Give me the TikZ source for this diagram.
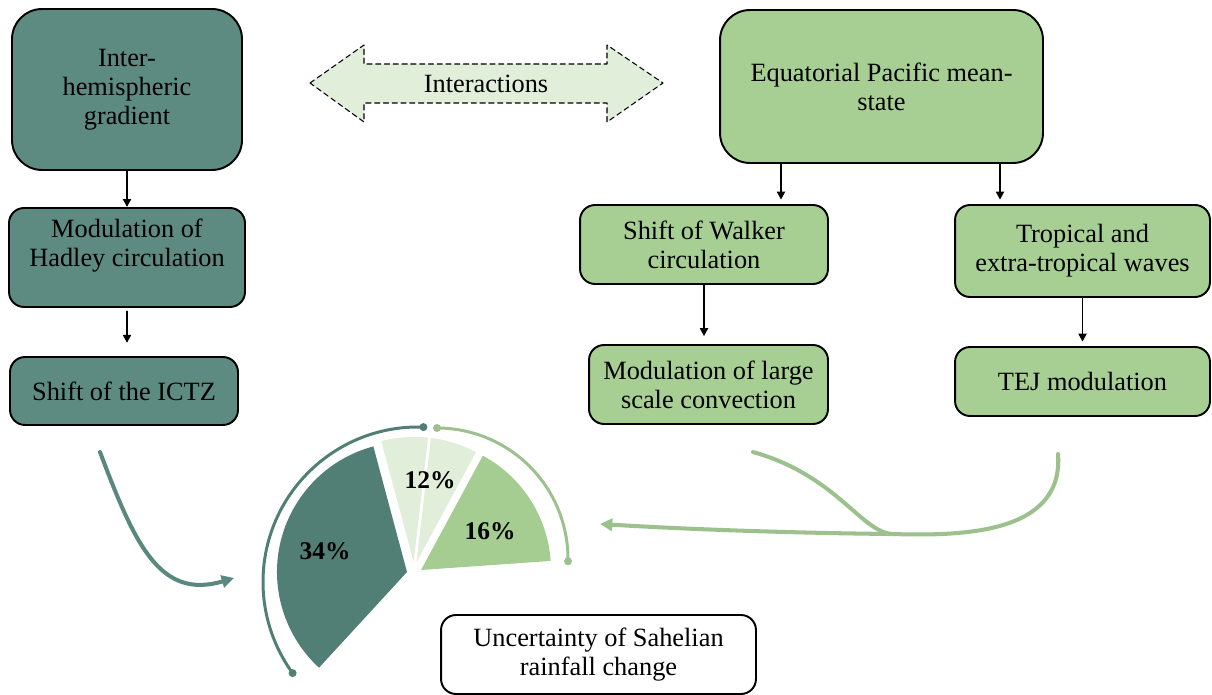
\documentclass[tikz,border=0pt]{standalone}
\usepackage{fontspec}
\setmainfont{Liberation Serif}
\usetikzlibrary{arrows.meta,calc}

\definecolor{tealbox}{HTML}{5E8B81}
\definecolor{piedark}{HTML}{517F75}
\definecolor{curveteal}{HTML}{5A887E}
\definecolor{greenbox}{HTML}{A7CF93}
\definecolor{piegreen}{HTML}{A5CD92}
\definecolor{palegreen}{HTML}{E1EED9}
\definecolor{curvegreen}{HTML}{9DC18E}

\begin{document}
\begin{tikzpicture}[
    x=0.02cm, y=-0.02cm,
    >={Triangle[length=4.5pt,width=4.5pt]},
    line cap=round,
    line join=round,
    font=\fontsize{15}{16.5}\selectfont,
    box/.style={draw=black, line width=1.1pt, rounded corners=0.3cm, align=center, inner sep=2pt},
    darkbox/.style={box, fill=tealbox},
    greenbox/.style={box, fill=greenbox},
    link/.style={->, line width=1.1pt},
    flow/.style={line width=2.3pt, -{Triangle[length=7pt,width=7pt]}},
    pct/.style={font=\fontsize{14.5}{16}\selectfont\bfseries}
]

\useasboundingbox (0,0) rectangle (1212,695);

% Left column
\node[darkbox, rounded corners=0.6cm, minimum width=4.6cm, minimum height=3.22cm] (ihg) at (127,89.5) {Inter-\\hemispheric\\gradient};
\node[darkbox, minimum width=4.72cm, minimum height=1.98cm] (hadley) at (127,257.5) {Modulation of\\Hadley circulation\\\mbox{}};
\node[darkbox, minimum width=4.56cm, minimum height=1.36cm] (itcz) at (124,391) {Shift of the ICTZ};

% Right columns
\node[greenbox, rounded corners=0.6cm, minimum width=6.46cm, minimum height=3.06cm] (eqpac) at (881.5,86.5) {Equatorial Pacific mean-\\state};
\node[greenbox, minimum width=4.96cm, minimum height=1.58cm] (walker) at (704,244.5) {Shift of Walker\\circulation};
\node[greenbox, minimum width=5.1cm, minimum height=1.84cm] (waves) at (1082.5,251) {Tropical and\\extra-tropical waves};
\node[greenbox, minimum width=4.78cm, minimum height=1.58cm] (conv) at (708.5,384.5) {Modulation of large\\scale convection};
\node[greenbox, minimum width=5.1cm, minimum height=1.38cm] (tej) at (1082.5,381.5) {TEJ modulation};

% Result box
\node[box, fill=white, minimum width=6.3cm, minimum height=1.58cm] (unc) at (598.5,654.5) {Uncertainty of Sahelian\\rainfall change};

% Interactions arrow
\draw[fill=palegreen, line width=0.6pt, dash pattern=on 3pt off 2pt]
    (310,83) -- (364,45) -- (364,64) -- (607,64) -- (607,45) -- (663,83)
    -- (607,122) -- (607,103) -- (364,103) -- (364,122) -- cycle;
\node (inter) at (486,84) {Interactions};

% Box links
\draw[link] (ihg.south) -- (hadley.north);
\draw[link, shorten <=2pt, shorten >=7.5pt] (hadley.south) -- (hadley.south |- itcz.north);
\draw[link, shorten >=2.5pt] ($(eqpac.south)+(-100.5,0)$) coordinate (eq1) -- (eq1 |- walker.north);
\draw[link, shorten >=2.5pt] ($(eqpac.south)+(118.5,0)$) coordinate (eq2) -- (eq2 |- waves.north);
\draw[link, shorten >=4.5pt] (walker.south) -- (walker.south |- conv.north);
\draw[link, shorten >=2.5pt] (waves.south) -- (waves.south |- tej.north);

% Pie sectors
\fill[piedark] (407,572) -- ++(-105:130) arc[start angle=-105, end angle=-227.4, radius=130] -- cycle;
\filldraw[fill=palegreen, draw=white, line width=1pt] (414,567) -- ++(-83.4:131) arc[start angle=-83.4, end angle=-105, radius=131] -- cycle;
\filldraw[fill=palegreen, draw=white, line width=1pt] (415,567) -- ++(-61.6:131) arc[start angle=-61.6, end angle=-83.4, radius=131] -- cycle;
\fill[piegreen] (421,570) -- ++(-4:130) arc[start angle=-4, end angle=-61.6, radius=130] -- cycle;

\node[pct] (p34) at (325,551) {34\%};
\node[pct] (p12) at (430,480) {12\%};
\node[pct] (p16) at (490,531) {16\%};

% Outer arcs
\draw[piedark, line width=1.7pt] (418,582) ++(-88:155) coordinate (dtop)
    arc[start angle=-88, end angle=-216, radius=155] coordinate (dbot);
\fill[piedark] (dtop) circle (4) (dbot) circle (4);
\draw[curvegreen, line width=1.7pt] (437,559) ++(-90:131) coordinate (gtop)
    arc[start angle=-90, end angle=1, radius=131] coordinate (gbot);
\fill[curvegreen] (gtop) circle (4) (gbot) circle (4);

% Flows into the pie
\coordinate (itczout) at (100,452);
\coordinate (convout) at (753,452);
\coordinate (tejout) at (1058,454);
\coordinate (join) at (891,534);
\coordinate (pieleft) at (234,578);
\coordinate (pieright) at (600,524);

\draw[flow, curveteal] (itczout) .. controls (135,545) and (160,600) .. (pieleft);
\draw[flow, curvegreen] (tejout) .. controls (1064,535) and (960,536) .. (join)
    .. controls (800,533) and (700,530) .. (pieright);
\draw[curvegreen, line width=2.3pt] (convout) .. controls (835,475) and (860,530) .. (join);

\end{tikzpicture}
\end{document}
